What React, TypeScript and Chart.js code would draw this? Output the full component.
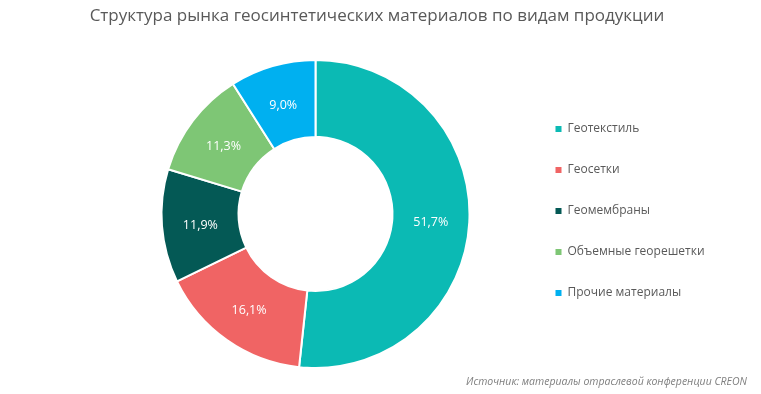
import React, { useEffect, useRef } from "react";
import { Chart, registerables } from "chart.js";

Chart.register(...registerables);

const titleText = "Структура рынка геосинтетических материалов по видам продукции";
const sourceText = "Источник: материалы отраслевой конференции CREON";
const categories = ["Геотекстиль", "Геосетки", "Геомембраны", "Объемные георешетки", "Прочие материалы"];
const shares = [51.7, 16.1, 11.9, 11.3, 9.0];
const colors = ["#0BBAB4", "#F06464", "#045955", "#7EC675", "#00B0F0"];

const FONT = "'Open Sans', 'Noto Sans', sans-serif";

const fmt = (v: number) => v.toFixed(1).replace(".", ",") + "%";

const labelPlugin = {
  id: "sliceLabels",
  afterDatasetsDraw(chart: any) {
    const ctx = chart.ctx;
    const meta = chart.getDatasetMeta(0);
    ctx.save();
    ctx.font = `12.5px ${FONT}`;
    ctx.fillStyle = "#FFFFFF";
    ctx.textAlign = "center";
    ctx.textBaseline = "middle";
    meta.data.forEach((arc: any, i: number) => {
      const p = arc.tooltipPosition();
      ctx.fillText(fmt(shares[i]), p.x, p.y + 2);
    });
    ctx.restore();
  },
};

const sourcePlugin = {
  id: "sourceNote",
  afterDraw(chart: any) {
    const ctx = chart.ctx;
    ctx.save();
    ctx.font = `italic 10.5px ${FONT}`;
    ctx.fillStyle = "#7F7F7F";
    ctx.textAlign = "right";
    ctx.textBaseline = "middle";
    ctx.fillText(sourceText, chart.width - 14, 382);
    ctx.restore();
  },
};

export default function App() {
  const ref = useRef<HTMLCanvasElement | null>(null);

  useEffect(() => {
    document.body.style.margin = "0";
    const canvas = ref.current;
    if (!canvas) return;
    const chart = new Chart(canvas, {
      type: "doughnut",
      data: {
        labels: categories,
        datasets: [
          {
            data: shares,
            backgroundColor: colors,
            borderColor: "#FFFFFF",
            borderWidth: 2,
          },
        ],
      },
      plugins: [labelPlugin, sourcePlugin],
      options: {
        responsive: false,
        animation: false,
        cutout: "50%",
        layout: { padding: { left: 0, right: 7, top: 0, bottom: 25 } },
        scales: {
          spacerLeft: {
            type: "linear",
            position: "left",
            display: false,
            afterFit: (s: any) => {
              s.width = 104.5;
            },
          },
          spacerRight: {
            type: "linear",
            position: "right",
            display: false,
            weight: 2000,
            afterFit: (s: any) => {
              const lw = s.chart.legend && s.chart.legend.width ? s.chart.legend.width : 185;
              s.width = Math.max(0, 754 - 526.5 - lw);
            },
          },
        },
        plugins: {
          tooltip: { enabled: false },
          title: {
            display: true,
            text: titleText,
            color: "#595959",
            font: { family: FONT, size: 17, weight: "normal" },
            padding: { top: 6, bottom: 32.6 },
          },
          legend: {
            position: "right",
            align: "start",
            fullSize: false,
            title: {
              display: true,
              text: "",
              font: { family: FONT, size: 10, lineHeight: 1.2 },
              padding: { top: 0, bottom: 23 },
            },
            labels: {
              boxWidth: 6,
              boxHeight: 6,
              padding: 29,
              color: "#595959",
              font: { family: FONT, size: 12 },
              generateLabels(c: any) {
                const items = Chart.overrides.doughnut.plugins.legend.labels.generateLabels(c);
                return items.map((it: any) => ({ ...it, lineWidth: 0, strokeStyle: it.fillStyle }));
              },
            },
          },
        },
      } as any,
    });
    return () => chart.destroy();
  }, []);

  return (
    <div style={{ width: 761, height: 394 }}>
      <canvas ref={ref} width={761} height={394} />
    </div>
  );
}
